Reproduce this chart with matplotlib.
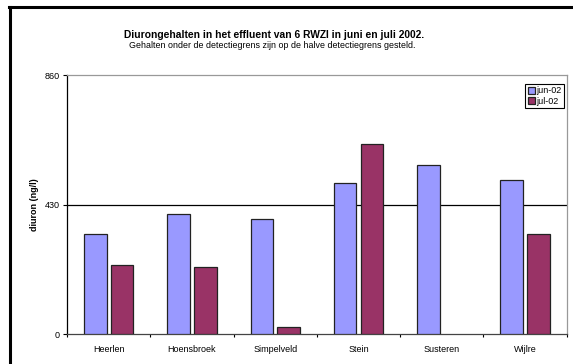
import numpy as np
import matplotlib.pyplot as plt
from matplotlib.lines import Line2D

plt.rcParams['font.family'] = ['Liberation Sans', 'DejaVu Sans']

locaties = ['Heerlen', 'Hoensbroek', 'Simpelveld', 'Stein', 'Susteren', 'Wijlre']
jun_02 = [331, 399, 381, 500, 560, 510]
jul_02 = [230, 221, 24, 631, np.nan, 331]

fig = plt.figure(figsize=(5.73, 3.64), dpi=100)
ax = fig.add_axes([0.117, 0.0824, 0.872, 0.7115])

x = np.arange(len(locaties))
w = 0.27
ax.bar(x - 0.16, jun_02, w, color='#9999FF', edgecolor='#222222', linewidth=0.9,
       label='jun-02', zorder=3)
ax.bar(x + 0.16, jul_02, w, color='#993366', edgecolor='#222222', linewidth=0.9,
       label='jul-02', zorder=3)

ax.set_xlim(-0.5, len(locaties) - 0.5)
ax.set_ylim(0, 860)
ax.set_yticks([0, 430, 860])
ax.set_yticklabels(['0', '430', '860'], fontsize=6.5)
ax.axhline(430, color='black', linewidth=0.9, zorder=1)

ax.set_xticks(x)
ax.set_xticklabels(locaties, fontsize=6.5)
ax.tick_params(axis='x', which='major', length=0, pad=8)
ax.set_xticks(np.arange(-0.5, len(locaties)), minor=True)
ax.tick_params(axis='x', which='minor', length=2.5, width=0.8, direction='out')
ax.tick_params(axis='y', length=3, width=0.8, pad=2)

for side in ['top', 'right']:
    ax.spines[side].set_color('#999999')
    ax.spines[side].set_linewidth(0.9)
ax.spines['left'].set_color('black')
ax.spines['left'].set_linewidth(0.9)
ax.spines['bottom'].set_color('#444444')
ax.spines['bottom'].set_linewidth(0.9)

ax.set_ylabel('diuron (ng/l)', fontsize=6.5, fontweight='bold', labelpad=4)

leg = ax.legend(loc='upper right', bbox_to_anchor=(0.995, 0.965), fontsize=6.5,
                frameon=True, fancybox=False, edgecolor='black', framealpha=1,
                handlelength=0.8, handleheight=0.8, handletextpad=0.2,
                borderpad=0.25, labelspacing=0.15, borderaxespad=0)
leg.get_frame().set_linewidth(0.8)

fig.text(0.479, 1 - 38 / 364, 'Diurongehalten in het effluent van 6 RWZI in juni en juli 2002.',
         ha='center', va='baseline', fontsize=7.4, fontweight='bold')
fig.text(0.475, 1 - 48 / 364, 'Gehalten onder de detectiegrens zijn op de halve detectiegrens gesteld.',
         ha='center', va='baseline', fontsize=6.4)

# outer chart frame (left and top edges)
fig.add_artist(Line2D([10 / 573, 10 / 573], [0, 1 - 7 / 364], transform=fig.transFigure,
                      color='black', linewidth=2.2))
fig.add_artist(Line2D([9 / 573, 1], [1 - 7 / 364, 1 - 7 / 364], transform=fig.transFigure,
                      color='black', linewidth=2.2))

fig.savefig('out.png', dpi=100)
